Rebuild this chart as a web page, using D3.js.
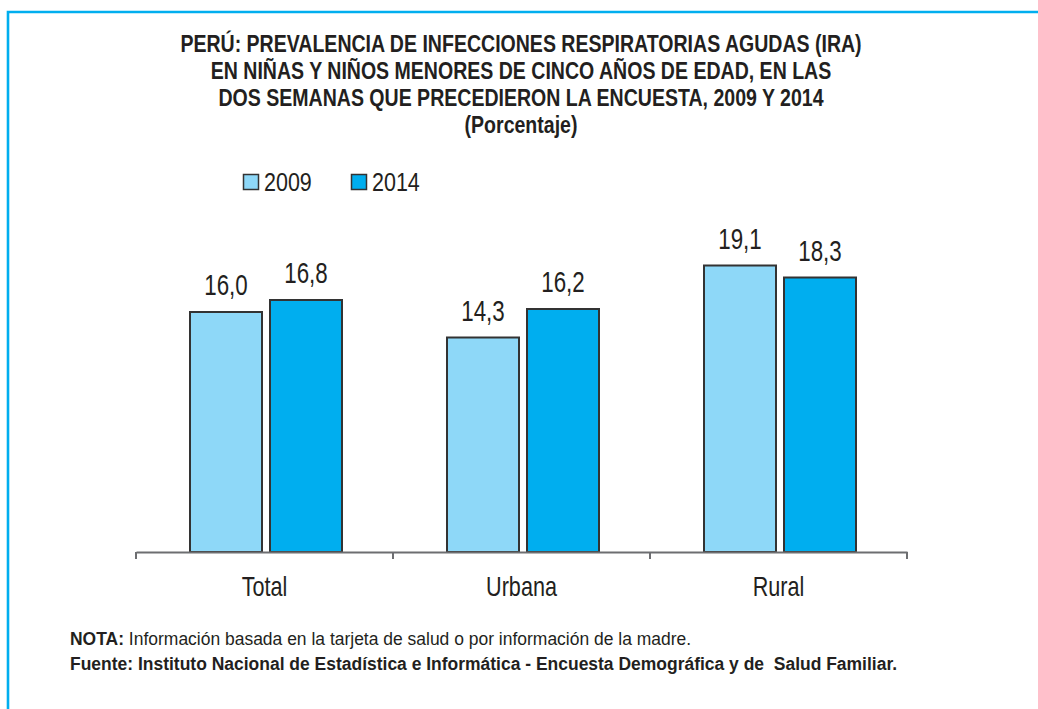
<!DOCTYPE html>
<html>
<head>
<meta charset="utf-8">
<script src="https://cdn.jsdelivr.net/npm/d3@7"></script>
<style>
  body { margin: 0; background: #fff; }
  svg text { font-family: "Liberation Sans", Arial, sans-serif; fill: #231f20; }
</style>
</head>
<body>
<svg id="chart" width="1038" height="709"></svg>
<script>
// chart data
const categories = ["Total", "Urbana", "Rural"];
const years = ["2009", "2014"];
const values2009 = [16.0, 14.3, 19.1];
const values2014 = [16.8, 16.2, 18.3];
const titleLines = [
  "PERÚ: PREVALENCIA DE INFECCIONES RESPIRATORIAS AGUDAS (IRA)",
  "EN NIÑAS Y NIÑOS MENORES DE CINCO AÑOS DE EDAD, EN LAS",
  "DOS SEMANAS QUE PRECEDIERON LA ENCUESTA, 2009 Y 2014",
  "(Porcentaje)"
];

const colors = { "2009": "#8ed8f8", "2014": "#00aeef" };

const svg = d3.select("#chart");

// squeeze text horizontally (the original uses a condensed face)
const place = (x, y, sx) => "translate(" + x + "," + y + ") scale(" + sx + ",1)";

// blue frame
svg.append("path")
  .attr("d", "M8,709 L8,12 L1038,12")
  .attr("fill", "none")
  .attr("stroke", "#00aeef")
  .attr("stroke-width", 2.6);

// title
const title = svg.append("g");
titleLines.forEach((t, i) => {
  title.append("text")
    .attr("transform", place(521, 52 + i * 27, 0.85))
    .attr("text-anchor", "middle")
    .attr("font-size", "23px")
    .attr("font-weight", "bold")
    .text(t);
});

// legend
const legend = svg.append("g");
const legendX = [243, 351];
years.forEach((y, i) => {
  legend.append("rect")
    .attr("x", legendX[i] + 0.5)
    .attr("y", 174.5)
    .attr("width", 15)
    .attr("height", 15)
    .attr("fill", colors[y])
    .attr("stroke", "#333")
    .attr("stroke-width", 1.5);
  legend.append("text")
    .attr("transform", place(legendX[i] + 21, 190.5, 0.86))
    .attr("font-size", "25px")
    .text(y);
});

// scales
const x0 = d3.scaleBand().domain(categories).range([136, 907]);
const x1 = d3.scaleBand().domain(years).range([54, 206]).paddingInner(0.1);
const y = d3.scaleLinear().domain([0, 20]).range([552, 252]);

const series = { "2009": values2009, "2014": values2014 };

const groups = svg.append("g").selectAll("g")
  .data(categories)
  .join("g")
  .attr("transform", d => "translate(" + x0(d) + ",0)");

groups.selectAll("rect")
  .data((d, i) => years.map(yr => ({ yr: yr, v: series[yr][i] })))
  .join("rect")
  .attr("x", d => x1(d.yr))
  .attr("y", d => y(d.v))
  .attr("width", x1.bandwidth())
  .attr("height", d => y(0) - y(d.v))
  .attr("fill", d => colors[d.yr])
  .attr("stroke", "#333")
  .attr("stroke-width", 2);

groups.selectAll("text.val")
  .data((d, i) => years.map(yr => ({ yr: yr, v: series[yr][i] })))
  .join("text")
  .attr("class", "val")
  .attr("transform", d => place(x1(d.yr) + x1.bandwidth() / 2, y(d.v) - 17, 0.77))
  .attr("text-anchor", "middle")
  .attr("font-size", "29px")
  .text(d => d.v.toFixed(1).replace(".", ","));

// x axis
const xAxis = svg.append("g")
  .attr("transform", "translate(0,552)")
  .call(d3.axisBottom(x0).tickSize(0).tickPadding(0).tickSizeOuter(0));
xAxis.select(".domain").attr("stroke", "#6d6e71").attr("stroke-width", 2);
xAxis.selectAll(".tick text")
  .attr("y", null)
  .attr("dy", null)
  .attr("transform", place(0, 44, 0.8))
  .attr("font-size", "27px")
  .attr("font-family", null)
  .style("fill", "#231f20");
xAxis.selectAll(".tick line").remove();
// boundary ticks between categories
const bounds = categories.map(c => x0(c)).concat([x0.range()[1]]);
xAxis.selectAll("line.sep")
  .data(bounds)
  .join("line")
  .attr("class", "sep")
  .attr("x1", d => d)
  .attr("x2", d => d)
  .attr("y1", 0)
  .attr("y2", 7)
  .attr("stroke", "#6d6e71")
  .attr("stroke-width", 2);

// footer notes
const nota = svg.append("text")
  .attr("transform", place(70, 645, 0.945))
  .attr("font-size", "18.5px");
nota.append("tspan").attr("font-weight", "bold").text("NOTA:");
nota.append("tspan").text(" Información basada en la tarjeta de salud o por información de la madre.");

svg.append("text")
  .attr("transform", place(70, 670, 0.945))
  .attr("font-size", "18.5px")
  .attr("font-weight", "bold")
  .style("white-space", "pre")
  .text("Fuente: Instituto Nacional de Estadística e Informática - Encuesta Demográfica y de  Salud Familiar.");
</script>
</body>
</html>
